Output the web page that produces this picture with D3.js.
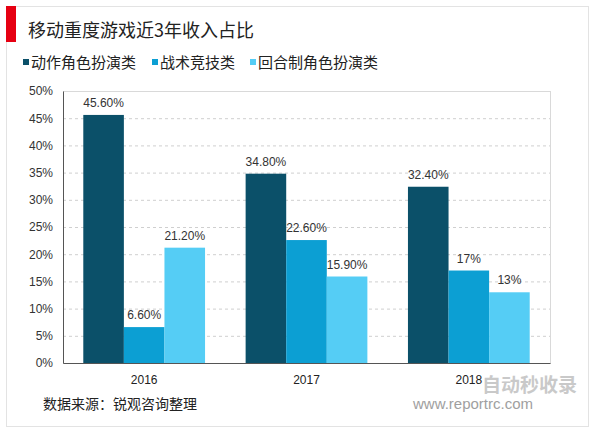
<!DOCTYPE html>
<html><head><meta charset="utf-8">
<script src="https://cdn.jsdelivr.net/npm/d3@7"></script>
<style>body{margin:0;background:#fff;}svg{display:block;font-family:"Noto Sans CJK SC","Liberation Sans",Arial,sans-serif;}</style>
</head><body><svg id="c" width="600" height="433"></svg>
<script>
const categories = ["2016", "2017", "2018"];
const seriesNames = ["动作角色扮演类", "战术竞技类", "回合制角色扮演类"];
const seriesValues = [
  [45.6, 34.8, 32.4],
  [6.6, 22.6, 17],
  [21.2, 15.9, 13]
];
const valueLabels = [
  ["45.60%", "34.80%", "32.40%"],
  ["6.60%", "22.60%", "17%"],
  ["21.20%", "15.90%", "13%"]
];
const yTicks = [0, 5, 10, 15, 20, 25, 30, 35, 40, 45, 50];
const colors = ["#0b5069", "#0c9fd3", "#55cdf5"];

const svg = d3.select("#c");
// frame
svg.append("rect").attr("x", 6.5).attr("y", 6.5).attr("width", 582).attr("height", 420)
  .attr("fill", "#fff").attr("stroke", "#e3e3e3");
svg.append("rect").attr("x", 6).attr("y", 6).attr("width", 10).attr("height", 36).attr("fill", "#e60012");
svg.append("text").attr("x", 28).attr("y", 37).attr("font-size", 18).attr("fill", "#222")
  .text("移动重度游戏近3年收入占比");

// legend
const legX = [23, 152, 250];
seriesNames.forEach((n, i) => {
  svg.append("rect").attr("x", legX[i]).attr("y", 59).attr("width", 6).attr("height", 6).attr("fill", colors[i]);
  svg.append("text").attr("x", legX[i] + 8).attr("y", 68).attr("font-size", 15).attr("fill", "#222").text(n);
});

const L = 63, R = 550, T = 91, B = 363;
const x0 = d3.scaleBand().domain(categories).range([L, R]).paddingInner(0.25).paddingOuter(0.125);
const x1 = d3.scaleBand().domain(d3.range(3)).range([0, x0.bandwidth()]);
const y = d3.scaleLinear().domain([0, 50]).range([B, T]);

// grid
svg.append("g").selectAll("line").data(yTicks.filter(t => t > 0 && t < 50)).join("line")
  .attr("x1", L).attr("x2", R).attr("y1", d => y(d) + 0.5).attr("y2", d => y(d) + 0.5)
  .attr("stroke", "#cfcfcf").attr("stroke-dasharray", "3,3");
svg.append("rect").attr("x", L + 0.5).attr("y", T + 0.5).attr("width", R - L).attr("height", B - T)
  .attr("fill", "none").attr("stroke", "#d9d9d9");

// bars
seriesValues.forEach((vals, si) => {
  const g = svg.append("g");
  g.selectAll("rect").data(vals).join("rect")
    .attr("x", (d, i) => x0(categories[i]) + x1(si))
    .attr("width", x1.bandwidth())
    .attr("y", d => y(d)).attr("height", d => B - y(d)).attr("fill", colors[si]);
  g.selectAll("text").data(vals).join("text")
    .attr("x", (d, i) => x0(categories[i]) + x1(si) + x1.bandwidth() / 2)
    .attr("y", d => y(d) - 8).attr("text-anchor", "middle").attr("font-size", 12).attr("fill", "#333")
    .attr("font-family", "Liberation Sans, Arial, sans-serif")
    .text((d, i) => valueLabels[si][i]);
});

// axes
const yAxis = svg.append("g").attr("transform", `translate(${L},0)`)
  .call(d3.axisLeft(y).tickValues(yTicks).tickFormat(d => d + "%").tickSize(0).tickPadding(10));
yAxis.select(".domain").attr("stroke", "#555");
yAxis.selectAll("text").attr("font-size", 12).attr("fill", "#333").attr("font-family", "Liberation Sans, Arial, sans-serif");
const xAxis = svg.append("g").attr("transform", `translate(0,${B})`)
  .call(d3.axisBottom(x0).tickSize(0).tickPadding(12));
xAxis.select(".domain").attr("stroke", "#555");
xAxis.selectAll("text").attr("font-size", 12).attr("fill", "#222").attr("font-family", "Liberation Sans, Arial, sans-serif");

// source
svg.append("text").attr("x", 43).attr("y", 409).attr("font-size", 14).attr("fill", "#222").text("数据来源：锐观咨询整理");

// watermark
svg.append("text").attr("x", 482).attr("y", 392).attr("font-size", 19).attr("font-weight", "bold").attr("fill", "#b8b8b8").attr("opacity", 0.75).text("自动秒收录");
svg.append("text").attr("x", 413).attr("y", 409).attr("font-size", 15).attr("fill", "#888").attr("opacity", 0.8)
  .attr("font-family", "Liberation Sans, Arial, sans-serif").text("www.reportrc.com");
</script></body></html>
